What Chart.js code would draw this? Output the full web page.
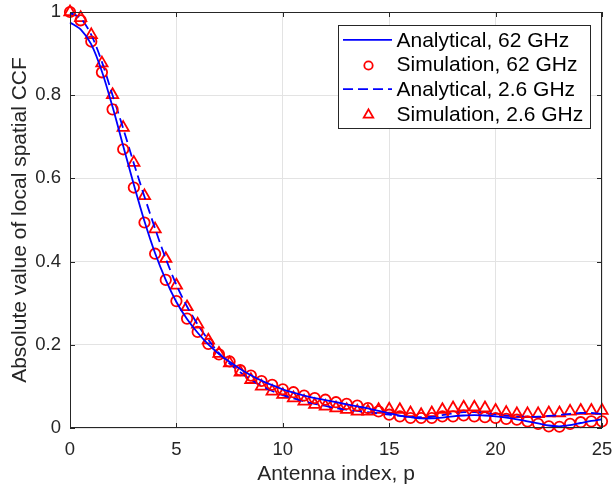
<!DOCTYPE html>
<html>
<head>
<meta charset="utf-8">
<script src="https://cdn.jsdelivr.net/npm/chart.js@4.4.0/dist/chart.umd.min.js"></script>
<style>
  html, body { margin: 0; padding: 0; background: #fff; }
  #wrap { width: 613px; height: 489px; }
</style>
</head>
<body>
<div id="wrap"><canvas id="chart" width="613" height="489"></canvas></div>
<script>
// indices de antena (paso 0.5)
const antennaIdx = [0, 0.5, 1, 1.5, 2, 2.5, 3, 3.5, 4, 4.5, 5, 5.5, 6, 6.5, 7, 7.5, 8, 8.5, 9, 9.5,
  10, 10.5, 11, 11.5, 12, 12.5, 13, 13.5, 14, 14.5, 15, 15.5, 16, 16.5, 17, 17.5, 18, 18.5, 19, 19.5,
  20, 20.5, 21, 21.5, 22, 22.5, 23, 23.5, 24, 24.5, 25];

const anal62 = [0.975, 0.958, 0.922, 0.857, 0.772, 0.678, 0.585, 0.497, 0.420, 0.356, 0.303, 0.262, 0.229,
  0.201, 0.178, 0.159, 0.142, 0.127, 0.114, 0.103, 0.093, 0.085, 0.078, 0.072, 0.067, 0.062, 0.057, 0.052,
  0.047, 0.041, 0.035, 0.030, 0.026, 0.023, 0.023, 0.025, 0.028, 0.030, 0.031, 0.030, 0.028, 0.025, 0.021,
  0.016, 0.011, 0.006, 0.004, 0.007, 0.012, 0.017, 0.021];

const sim62 = [1.000, 0.980, 0.929, 0.855, 0.766, 0.670, 0.578, 0.494, 0.419, 0.356, 0.305, 0.263, 0.231,
  0.202, 0.177, 0.160, 0.139, 0.126, 0.113, 0.104, 0.093, 0.086, 0.078, 0.072, 0.068, 0.062, 0.058, 0.054,
  0.048, 0.040, 0.032, 0.028, 0.024, 0.024, 0.024, 0.028, 0.028, 0.030, 0.028, 0.026, 0.024, 0.022, 0.020,
  0.016, 0.010, 0.004, 0.003, 0.010, 0.014, 0.016, 0.016];

const anal26 = [0.998, 0.985, 0.945, 0.880, 0.800, 0.720, 0.636, 0.556, 0.479, 0.407, 0.344, 0.292, 0.249,
  0.212, 0.180, 0.155, 0.134, 0.116, 0.101, 0.089, 0.079, 0.071, 0.064, 0.058, 0.053, 0.048, 0.044, 0.041,
  0.038, 0.035, 0.032, 0.029, 0.027, 0.026, 0.027, 0.031, 0.035, 0.038, 0.038, 0.036, 0.033, 0.030, 0.028,
  0.027, 0.027, 0.029, 0.031, 0.034, 0.036, 0.036, 0.034];

const sim26 = [1.000, 0.986, 0.945, 0.877, 0.801, 0.722, 0.638, 0.558, 0.478, 0.407, 0.343, 0.291, 0.249,
  0.211, 0.179, 0.156, 0.134, 0.116, 0.100, 0.088, 0.080, 0.072, 0.064, 0.056, 0.052, 0.048, 0.044, 0.040,
  0.040, 0.044, 0.045, 0.044, 0.036, 0.032, 0.036, 0.044, 0.048, 0.050, 0.050, 0.048, 0.042, 0.037, 0.034,
  0.034, 0.034, 0.036, 0.036, 0.040, 0.042, 0.042, 0.042];

const xTicks = [0, 5, 10, 15, 20, 25];
const yTicks = [0, 0.2, 0.4, 0.6, 0.8, 1];
const seriesNames = ['Analytical, 62 GHz', 'Simulation, 62 GHz', 'Analytical, 2.6 GHz', 'Simulation, 2.6 GHz'];

const FONT = '"Liberation Sans", Arial, Helvetica, sans-serif';
const AXIS_COLOR = '#262626';
const BLUE = '#0000ff';
const RED = '#ff0000';

function toPoints(ys) {
  return antennaIdx.map((x, i) => ({ x: x, y: ys[i] }));
}

// marco y marcas de eje hacia adentro (estilo MATLAB)
const framePlugin = {
  id: 'frame',
  afterDatasetsDraw(chart) {
    const { ctx, chartArea: a, scales } = chart;
    const len = 5;
    ctx.save();
    ctx.strokeStyle = AXIS_COLOR;
    ctx.lineWidth = 1;
    ctx.beginPath();
    xTicks.forEach(v => {
      const px = Math.round(scales.x.getPixelForValue(v)) + 0.5;
      ctx.moveTo(px, a.bottom); ctx.lineTo(px, a.bottom - len);
      ctx.moveTo(px, a.top); ctx.lineTo(px, a.top + len);
    });
    yTicks.forEach(v => {
      const py = Math.round(scales.y.getPixelForValue(v)) + 0.5;
      ctx.moveTo(a.left, py); ctx.lineTo(a.left + len, py);
      ctx.moveTo(a.right, py); ctx.lineTo(a.right - len, py);
    });
    ctx.stroke();
    ctx.strokeRect(a.left + 0.5, a.top + 0.5, a.right - a.left - 1, a.bottom - a.top - 1);
    ctx.restore();
  }
};

function drawMarker(ctx, style, x, y, r) {
  ctx.beginPath();
  if (style === 'circle') {
    ctx.arc(x, y, r, 0, Math.PI * 2);
  } else {
    for (let k = 0; k < 3; k++) {
      const ang = k * 2 * Math.PI / 3;
      const px = x + Math.sin(ang) * r, py = y - Math.cos(ang) * r;
      if (k === 0) ctx.moveTo(px, py); else ctx.lineTo(px, py);
    }
    ctx.closePath();
  }
  ctx.stroke();
}

// leyenda dentro del area del grafico
const legendPlugin = {
  id: 'boxLegend',
  afterDraw(chart) {
    const ctx = chart.ctx;
    const box = { x: 338.5, y: 25.5, w: 252, h: 103 };
    ctx.save();
    ctx.fillStyle = '#fff';
    ctx.fillRect(box.x, box.y, box.w, box.h);
    ctx.strokeStyle = AXIS_COLOR;
    ctx.lineWidth = 1;
    ctx.strokeRect(box.x, box.y, box.w, box.h);
    ctx.font = '21px ' + FONT;
    ctx.textBaseline = 'middle';
    ctx.textAlign = 'left';
    seriesNames.forEach((name, i) => {
      const cy = 40.8 + i * 24.7;
      ctx.lineWidth = 1.8;
      if (i === 0 || i === 2) {
        ctx.strokeStyle = BLUE;
        ctx.setLineDash(i === 2 ? [10, 5] : []);
        ctx.beginPath();
        ctx.moveTo(343, cy - 1); ctx.lineTo(392, cy - 1);
        ctx.stroke();
        ctx.setLineDash([]);
      } else {
        ctx.strokeStyle = RED;
        drawMarker(ctx, i === 1 ? 'circle' : 'triangle', 368.5, cy, i === 1 ? 4.2 : 5.5);
      }
      ctx.fillStyle = '#000';
      ctx.fillText(name, 396.5, cy);
    });
    ctx.restore();
  }
};

const ctx = document.getElementById('chart').getContext('2d');
const chart = new Chart(ctx, {
  type: 'line',
  data: {
    datasets: [
      {
        label: seriesNames[0], data: toPoints(anal62), borderColor: BLUE, borderWidth: 1.8,
        pointRadius: 0, tension: 0.3, fill: false, clip: false
      },
      {
        label: seriesNames[1], data: toPoints(sim62), showLine: false, pointStyle: 'circle',
        pointRadius: 5.2, pointBorderWidth: 1.8, pointBorderColor: RED,
        pointBackgroundColor: 'rgba(0,0,0,0)', clip: false
      },
      {
        label: seriesNames[2], data: toPoints(anal26), borderColor: BLUE, borderWidth: 1.8,
        borderDash: [10, 5], pointRadius: 0, tension: 0.3, fill: false, clip: false
      },
      {
        label: seriesNames[3], data: toPoints(sim26), showLine: false, pointStyle: 'triangle',
        pointRadius: 6.5, pointBorderWidth: 1.8, pointBorderColor: RED,
        pointBackgroundColor: 'rgba(0,0,0,0)', clip: false
      }
    ]
  },
  options: {
    responsive: false,
    animation: false,
    devicePixelRatio: 1,
    layout: { padding: { top: 12, right: 11, left: 0, bottom: 0 } },
    plugins: { legend: { display: false }, tooltip: { enabled: false } },
    scales: {
      x: {
        type: 'linear', min: 0, max: 25,
        afterBuildTicks: s => { s.ticks = xTicks.map(v => ({ value: v })); },
        afterFit: s => { s.height = 61; s.paddingLeft = 0; s.paddingRight = 0; },
        grid: { color: '#e3e3e3', drawTicks: false },
        border: { display: false },
        ticks: { color: AXIS_COLOR, padding: 11, maxRotation: 0, font: { family: FONT, size: 18.5 } },
        title: {
          display: true, text: 'Antenna index, p', color: AXIS_COLOR,
          font: { family: FONT, size: 21 }, padding: { top: 0, bottom: 2 }
        }
      },
      y: {
        type: 'linear', min: 0, max: 1,
        afterBuildTicks: s => { s.ticks = yTicks.map(v => ({ value: v })); },
        afterFit: s => { s.width = 70; s.paddingTop = 0; s.paddingBottom = 0; },
        grid: { color: '#e3e3e3', drawTicks: false },
        border: { display: false },
        ticks: {
          color: AXIS_COLOR, padding: 9, font: { family: FONT, size: 18.5 },
          callback: v => String(Math.round(v * 10) / 10)
        },
        title: {
          display: true, text: 'Absolute value of local spatial CCF', color: AXIS_COLOR,
          font: { family: FONT, size: 21 }, padding: { top: 8, bottom: 0 }
        }
      }
    }
  },
  plugins: [framePlugin, legendPlugin]
});
</script>
</body>
</html>
